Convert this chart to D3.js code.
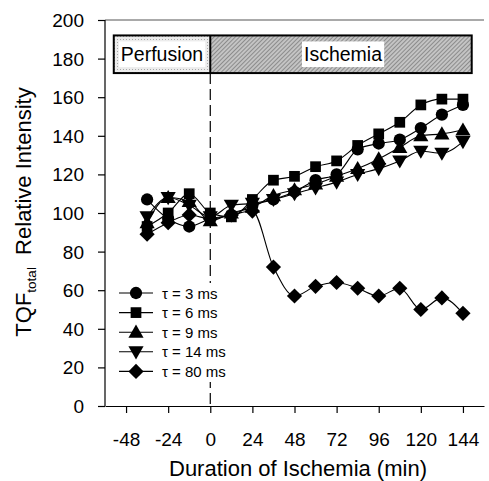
<!DOCTYPE html>
<html>
<head>
<meta charset="utf-8">
<script src="https://cdn.jsdelivr.net/npm/d3@7"></script>
<style>
  body { margin: 0; background: #fff; }
  svg { font-family: Arial, "Liberation Sans", sans-serif; }
</style>
</head>
<body>
<div id="chart"></div>
<script>
// data
var minutes = [-36, -24, -12, 0, 12, 24, 36, 48, 60, 72, 84, 96, 108, 120, 132, 144];
var tau3  = [107, 97, 93, 97, 99, 104, 107, 111, 117, 120, 133, 136, 138, 144, 151, 156];
var tau6  = [93, 100, 110, 100, 98, 107, 117, 119, 124, 127, 135, 141, 147, 156, 159, 159];
var tau9  = [95, 108, 106, 96, 100, 103, 109, 112, 115, 119, 123, 128, 134, 140, 141, 143];
var tau14 = [98, 108, 104, 98, 104, 105, 107, 110, 113, 116, 120, 123, 127, 132, 131, 137];
var tau80 = [89, 95, 99, 97, 99, 101, 72, 57, 62, 64, 61, 57, 61, 50, 56, 48];
var seriesNames = ['τ = 3 ms', 'τ = 6 ms', 'τ = 9 ms', 'τ = 14 ms', 'τ = 80 ms'];
var xTicks = [-48, -24, 0, 24, 48, 72, 96, 120, 144];
var yTicks = [0, 20, 40, 60, 80, 100, 120, 140, 160, 180, 200];

var width = 489, height = 481;
var x = d3.scaleLinear().domain([-60, 156]).range([105, 484]);
var y = d3.scaleLinear().domain([0, 200]).range([406, 20]);

// marker shapes
var triUp = { draw: function(c, s) { var r = Math.sqrt(s); c.moveTo(0, -r * 0.62); c.lineTo(r * 0.62, r * 0.45); c.lineTo(-r * 0.62, r * 0.45); c.closePath(); } };
var triDown = { draw: function(c, s) { var r = Math.sqrt(s); c.moveTo(0, r * 0.62); c.lineTo(r * 0.62, -r * 0.45); c.lineTo(-r * 0.62, -r * 0.45); c.closePath(); } };
var diamond = { draw: function(c, s) { var r = Math.sqrt(s) * 0.68; c.moveTo(0, -r); c.lineTo(r, 0); c.lineTo(0, r); c.lineTo(-r, 0); c.closePath(); } };
var shapes = [d3.symbolCircle, d3.symbolSquare, triUp, triDown, diamond];
var sizes = [118, 115, 150, 150, 125];

var series = [tau3, tau6, tau9, tau14, tau80].map(function(vals, i) {
  return { name: seriesNames[i], shape: shapes[i], size: sizes[i],
    points: vals.map(function(v, j) { return { t: minutes[j], v: v }; }) };
});

var svg = d3.select('#chart').append('svg')
  .attr('width', width).attr('height', height);

var defs = svg.append('defs');
var hatch = defs.append('pattern').attr('id', 'hatch')
  .attr('patternUnits', 'userSpaceOnUse').attr('width', 3).attr('height', 3)
  .attr('patternTransform', 'rotate(45)');
hatch.append('rect').attr('width', 3).attr('height', 3).attr('fill', '#c4c4c4');
hatch.append('line').attr('x1', 0).attr('y1', 0).attr('x2', 0).attr('y2', 3)
  .attr('stroke', '#6e6e6e').attr('stroke-width', 1.3);
var dots = defs.append('pattern').attr('id', 'dots')
  .attr('patternUnits', 'userSpaceOnUse').attr('width', 3).attr('height', 3);
dots.append('rect').attr('width', 3).attr('height', 3).attr('fill', '#ececec');
dots.append('rect').attr('width', 1).attr('height', 1).attr('fill', '#a8a8a8');

// frame top line
svg.append('line').attr('x1', x(-60)).attr('x2', x(156)).attr('y1', y(200)).attr('y2', y(200))
  .attr('stroke', '#555').attr('stroke-width', 1);

// perfusion / ischemia bar
var boxTop = y(192), boxBot = y(172.5);
svg.append('rect').attr('x', x(-55)).attr('y', boxTop)
  .attr('width', x(0) - x(-55)).attr('height', boxBot - boxTop).attr('fill', 'url(#dots)');
svg.append('rect').attr('x', x(0)).attr('y', boxTop)
  .attr('width', x(149) - x(0)).attr('height', boxBot - boxTop).attr('fill', 'url(#hatch)');
svg.append('rect').attr('x', x(-55)).attr('y', boxTop)
  .attr('width', x(149) - x(-55)).attr('height', boxBot - boxTop)
  .attr('fill', 'none').attr('stroke', '#000').attr('stroke-width', 2);
svg.append('line').attr('x1', x(0)).attr('x2', x(0)).attr('y1', boxTop).attr('y2', boxBot)
  .attr('stroke', '#000').attr('stroke-width', 2);

function boxLabel(txt, cx) {
  var t = svg.append('text').attr('x', cx).attr('y', (boxTop + boxBot) / 2 + 7)
    .attr('text-anchor', 'middle').attr('font-size', 19.5).text(txt);
  var bb = t.node().getBBox();
  svg.insert('rect', function() { return t.node(); })
    .attr('x', bb.x - 2).attr('y', boxTop + 6).attr('width', bb.width + 4)
    .attr('height', boxBot - boxTop - 12).attr('fill', '#fff');
}
boxLabel('Perfusion', (x(-55) + x(0)) / 2);
boxLabel('Ischemia', (x(0) + x(149)) / 2 + 2);

// dashed line at onset of ischemia
svg.append('line').attr('x1', x(0)).attr('x2', x(0)).attr('y1', boxBot).attr('y2', y(0))
  .attr('stroke', '#000').attr('stroke-width', 1.2).attr('stroke-dasharray', '11,5');

// axes
var yAxis = svg.append('g').attr('transform', 'translate(' + x(-60) + ',0)')
  .call(d3.axisLeft(y).tickValues(yTicks).tickSize(7).tickPadding(14).tickFormat(String));
var xAxis = svg.append('g').attr('transform', 'translate(0,' + y(0) + ')')
  .call(d3.axisBottom(x).tickValues(xTicks).tickSize(7).tickPadding(20).tickSizeOuter(0).tickFormat(String));
yAxis.select('.domain').attr('d', 'M0,' + y(200) + 'V' + y(0));
[xAxis, yAxis].forEach(function(a) {
  a.selectAll('text').attr('font-size', 19).attr('font-family', 'Arial, "Liberation Sans", sans-serif').attr('fill', '#000');
  a.selectAll('line, path').attr('stroke', '#000').attr('stroke-width', 1.2);
});
yAxis.selectAll('text').attr('dy', '0.34em');

// axis titles
svg.append('text').attr('x', 298).attr('y', 476).attr('text-anchor', 'middle')
  .attr('font-size', 22).text('Duration of Ischemia (min)');
var yt = svg.append('text').attr('transform', 'translate(31,212) rotate(-90)')
  .attr('text-anchor', 'middle').attr('font-size', 22);
yt.append('tspan').text('TQF');
yt.append('tspan').attr('font-size', 13.5).attr('dy', 5).text('total');
yt.append('tspan').attr('dy', -5).text('\u00a0\u00a0Relative Intensity');

// lines and markers
var line = d3.line().x(function(d) { return x(d.t); }).y(function(d) { return y(d.v); })
  .curve(d3.curveMonotoneX);
series.forEach(function(s) {
  svg.append('path').datum(s.points).attr('d', line)
    .attr('fill', 'none').attr('stroke', '#000').attr('stroke-width', 1.1);
});
series.forEach(function(s) {
  svg.selectAll(null).data(s.points).enter().append('path')
    .attr('transform', function(d) { return 'translate(' + x(d.t) + ',' + y(d.v) + ')'; })
    .attr('d', d3.symbol().type(s.shape).size(s.size))
    .attr('fill', '#000');
});

// legend
var legend = svg.append('g').attr('transform', 'translate(119,293)');
legend.append('rect').attr('x', -4).attr('y', -10).attr('width', 112).attr('height', 99)
  .attr('fill', '#fff');
series.forEach(function(s, i) {
  var g = legend.append('g').attr('transform', 'translate(0,' + (i * 19.6) + ')');
  g.append('line').attr('x1', 0).attr('x2', 34).attr('stroke', '#000').attr('stroke-width', 1.1);
  g.append('path').attr('transform', 'translate(17,0)')
    .attr('d', d3.symbol().type(s.shape).size(s.size)).attr('fill', '#000');
  g.append('text').attr('x', 43).attr('y', 5.5).attr('font-size', 15).text(s.name);
});
</script>
</body>
</html>
